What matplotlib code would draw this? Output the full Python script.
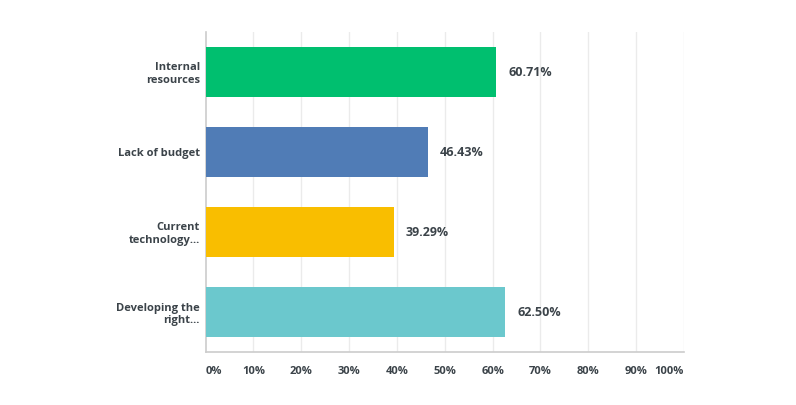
import matplotlib.pyplot as plt
import numpy as np

# data
categories = ["Internal\nresources", "Lack of budget", "Current\ntechnology\u2026", "Developing the\nright\u2026"]
values = [60.71, 46.43, 39.29, 62.50]
colors = ["#00BF6F", "#507CB6", "#F9BE00", "#6BC8CD"]
ticks = [0, 10, 20, 30, 40, 50, 60, 70, 80, 90, 100]

plt.rcParams['font.family'] = ['Open Sans', 'DejaVu Sans']
text_color = "#3B4349"

fig = plt.figure(figsize=(7.96, 4.05), dpi=100)
ax = fig.add_axes([205.5/796, 53/405, (684-205.5)/796, 320/405])

y = np.arange(len(categories))
ax.barh(y, values, height=0.625, color=colors, zorder=3)
ax.set_ylim(len(categories) - 0.5, -0.5)
ax.set_xlim(0, 100)

# value labels
for yi, v in zip(y, values):
    ax.annotate("%.2f%%" % v, (v, yi), xytext=(9, 0), textcoords='offset points',
                va='center', ha='left', fontsize=9, fontweight='bold', color=text_color)

# grid
for t in ticks[1:]:
    ax.axvline(t, color="#EBEBEB", lw=1, zorder=1)

ax.set_yticks(y)
ax.set_yticklabels(categories, fontsize=8, fontweight='bold', color=text_color,
                   linespacing=1.2)
ax.set_xticks(ticks)
ax.set_xticklabels(["%d%%" % t for t in ticks], fontsize=8, fontweight='bold', color=text_color)
labels = ax.get_xticklabels()
labels[0].set_ha('left')
labels[-1].set_ha('right')
ax.tick_params(axis='both', length=0)
ax.tick_params(axis='x', pad=10)
ax.tick_params(axis='y', pad=4)

for s in ['top', 'right']:
    ax.spines[s].set_visible(False)
for s in ['left', 'bottom']:
    ax.spines[s].set_color("#CCCCCC")
    ax.spines[s].set_linewidth(1.2)

fig.savefig("out.png", dpi=100)
